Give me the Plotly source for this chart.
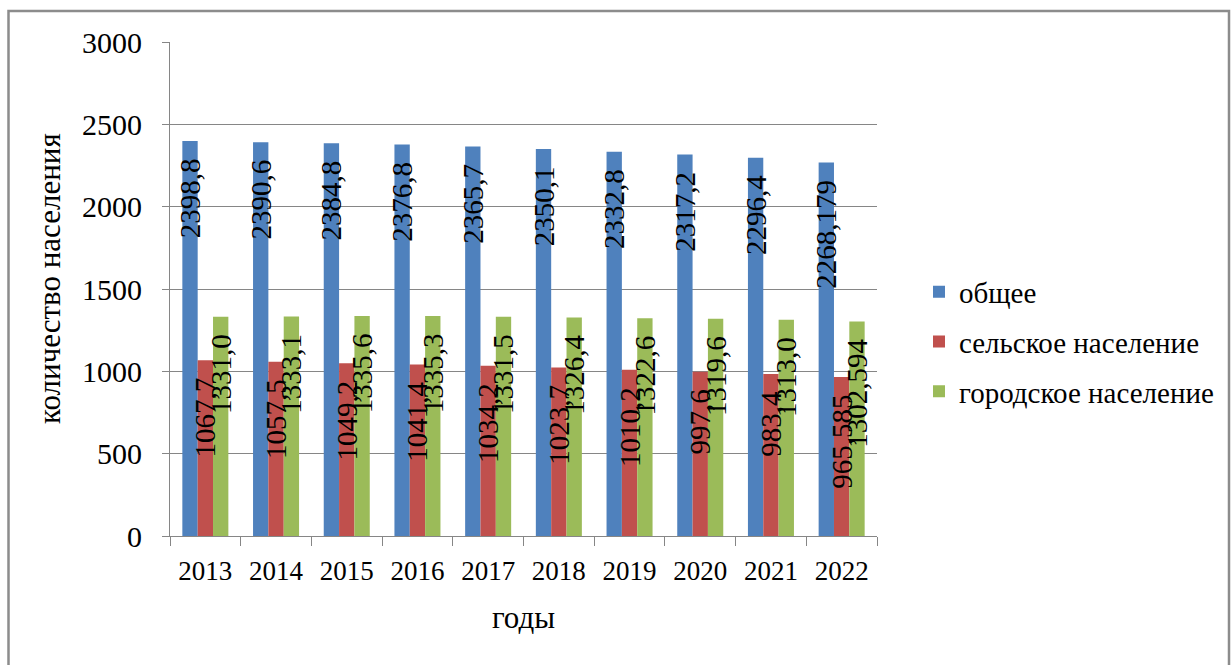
import plotly.graph_objects as go

# Population by year (thousands)
years = ["2013", "2014", "2015", "2016", "2017", "2018", "2019", "2020", "2021", "2022"]
total = [2398.8, 2390.6, 2384.8, 2376.8, 2365.7, 2350.1, 2332.8, 2317.2, 2296.4, 2268.179]
rural = [1067.7, 1057.5, 1049.2, 1041.4, 1034.2, 1023.7, 1010.2, 997.6, 983.4, 965.585]
urban = [1331.0, 1333.1, 1335.6, 1335.3, 1331.5, 1326.4, 1322.6, 1319.6, 1313.0, 1302.594]
total_lbl = ["2398,8", "2390,6", "2384,8", "2376,8", "2365,7", "2350,1", "2332,8", "2317,2", "2296,4", "2268,179"]
rural_lbl = ["1067,7", "1057,5", "1049,2", "1041,4", "1034,2", "1023,7", "1010,2", "997,6", "983,4", "965,585"]
urban_lbl = ["1331,0", "1333,1", "1335,6", "1335,3", "1331,5", "1326,4", "1322,6", "1319,6", "1313,0", "1302,594"]

series = [
    ("общее", total, total_lbl, "#4F81BD"),
    ("сельское население", rural, rural_lbl, "#C0504D"),
    ("городское население", urban, urban_lbl, "#9BBB59"),
]

FONT = "Liberation Serif"
GRID = "#868686"
W = 0.217          # bar width in category units
GROUP = 3 * W
PAD = "\u00a0\u00a0"

W_PX, H_PX = 1232, 665
L, R, T, B = 170, 355, 42, 129

fig = go.Figure()

# bars
for k, (name, vals, lbl, col) in enumerate(series):
    fig.add_trace(go.Bar(
        x=years, y=vals, name=name, width=W, offset=-GROUP / 2 + k * W,
        marker=dict(color=col, line=dict(width=0)),
        legendgroup=name,
    ))

# value labels, drawn above every bar
for k, (name, vals, lbl, col) in enumerate(series):
    fig.add_trace(go.Bar(
        x=years, y=vals, width=W, offset=-GROUP / 2 + k * W,
        marker=dict(color="rgba(0,0,0,0)", line=dict(width=0)),
        text=[t + PAD for t in lbl], textposition="inside", insidetextanchor="end",
        textangle=-90, constraintext="none",
        textfont=dict(family=FONT, size=29, color="black"),
        showlegend=False, hoverinfo="skip",
    ))

# pixel -> paper coordinate helpers
pw, ph = W_PX - L - R, H_PX - T - B
def px_x(v):
    return (v - L) / pw
def px_y(v):
    return (H_PX - B - v) / ph

# outer frame
fig.add_shape(type="rect", xref="paper", yref="paper",
              x0=px_x(8.5), x1=px_x(1229), y0=px_y(690), y1=px_y(11),
              line=dict(color="#8C8C8C", width=2.5), fillcolor="rgba(0,0,0,0)", layer="below")

# y-axis title
fig.add_annotation(text="количество населения", xref="paper", yref="paper",
                   x=px_x(49), y=px_y(279), xanchor="center", yanchor="middle",
                   textangle=-90, showarrow=False,
                   font=dict(family=FONT, size=31, color="black"))

fig.update_layout(
    width=W_PX, height=H_PX,
    margin=dict(l=L, r=R, t=T, b=B),
    paper_bgcolor="white", plot_bgcolor="white",
    barmode="overlay",
    font=dict(family=FONT, color="black"),
    legend=dict(
        x=px_x(919), xanchor="left", y=px_y(342), yanchor="middle",
        font=dict(family=FONT, size=29), itemwidth=30,
        tracegroupgap=9, traceorder="grouped",
        bgcolor="rgba(0,0,0,0)",
    ),
    xaxis=dict(
        type="category", showline=True, linecolor=GRID, linewidth=1,
        ticks="outside", tickson="boundaries", ticklen=9, tickcolor=GRID,
        tickfont=dict(family=FONT, size=27), ticklabelstandoff=11,
        showgrid=False,
        title=dict(text="годы", font=dict(family=FONT, size=31), standoff=20),
    ),
    yaxis=dict(
        range=[0, 3000], dtick=500, showline=True, linecolor=GRID, linewidth=1,
        ticks="outside", ticklen=7, tickcolor=GRID,
        showgrid=True, gridcolor=GRID, gridwidth=1, zeroline=False,
        tickfont=dict(family=FONT, size=30), ticklabelstandoff=14,
    ),
)

fig.write_html("out.html")
